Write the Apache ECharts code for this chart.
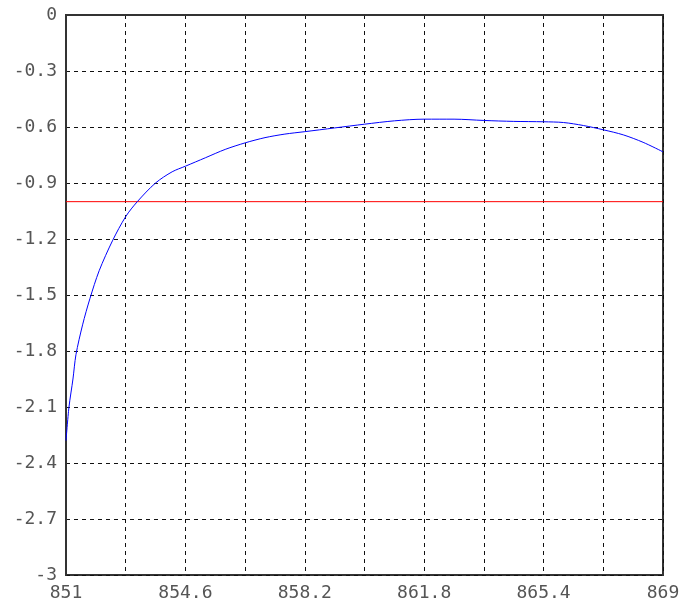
<!DOCTYPE html>
<html>
<head>
<meta charset="utf-8">
<script src="https://cdn.jsdelivr.net/npm/echarts@6/dist/echarts.min.js"></script>
<style>html,body{margin:0;padding:0;background:#fff;}#c{width:691px;height:602px;}</style>
</head>
<body>
<div id="c"></div>
<script>
const xValues = [851.0, 851.09, 851.21, 851.3, 851.5, 851.72, 852.0, 852.4, 852.8, 853.15, 853.7, 854.2, 854.6, 855.2, 855.8, 856.4, 857.0, 857.6, 858.2, 859.1, 860.0, 860.9, 861.8, 862.7, 863.6, 864.5, 865.4, 866.0, 866.6, 867.2, 867.8, 868.4, 869.0];
const yValues = [-2.28, -2.1, -1.95, -1.82, -1.66, -1.52, -1.37, -1.21, -1.08, -1.0, -0.9, -0.84, -0.81, -0.765, -0.72, -0.685, -0.657, -0.638, -0.625, -0.605, -0.585, -0.567, -0.558, -0.558, -0.565, -0.57, -0.572, -0.576, -0.592, -0.615, -0.642, -0.682, -0.733];
const thresholdX = [851, 869];
const thresholdY = [-1, -1];
const xTickLabels = ['851', '854.6', '858.2', '861.8', '865.4', '869'];

const curve = xValues.map((x, i) => [x, yValues[i]]);
const thr = thresholdX.map((x, i) => [x, thresholdY[i]]);

const chart = echarts.init(document.getElementById('c'));
const font = 'DejaVu Sans Mono';
chart.setOption({
  animation: false,
  grid: {left: 66, right: 28, top: 15, bottom: 26, show: true, borderColor: '#333', borderWidth: 2, backgroundColor: 'transparent'},
  xAxis: {
    type: 'value', min: 851, max: 869, interval: 1.8,
    axisLine: {show: true, lineStyle: {color: '#333', width: 2}},
    axisTick: {show: false},
    axisLabel: {
      color: '#555', fontFamily: font, fontSize: 18, margin: 9,
      formatter: function (v) {
        const k = Math.round((v - 851) / 1.8);
        return k % 2 === 0 ? xTickLabels[k / 2] : '';
      }
    },
    splitLine: {show: true, lineStyle: {color: '#111', width: 1, type: [4, 4]}}
  },
  yAxis: {
    type: 'value', min: -3, max: 0, interval: 0.3,
    axisLine: {show: true, lineStyle: {color: '#333', width: 2}},
    axisTick: {show: false},
    axisLabel: {color: '#555', fontFamily: font, fontSize: 18, margin: 9,
      formatter: function (v) { return String(Math.round(v * 10) / 10); }},
    splitLine: {show: true, lineStyle: {color: '#111', width: 1, type: [4, 4]}}
  },
  series: [
    {type: 'line', data: thr, symbol: 'none', lineStyle: {color: '#ff0000', width: 1}, z: 3},
    {type: 'line', data: curve, symbol: 'none', smooth: 0.3, lineStyle: {color: '#0000ff', width: 1}, z: 4}
  ]
});
</script>
</body>
</html>
